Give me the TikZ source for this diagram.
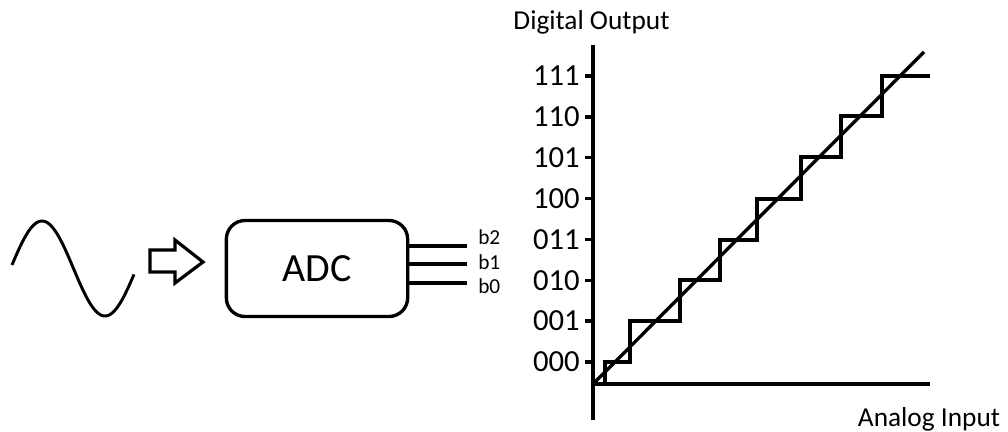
\documentclass[tikz,border=0pt]{standalone}
\usepackage{fontspec}
\setmainfont{Carlito}
\usepackage{tikz}
\usetikzlibrary{calc}

\begin{document}
\begin{tikzpicture}[x=0.75pt, y=-0.75pt]
      \tikzset{thick line/.style = {line width=2.5pt}}
      \tikzset{box/.style = {shape=rectangle, draw, line width=2.5pt, rounded corners=14pt,
          minimum width=136pt, minimum height=72pt, font=\fontsize{30}{36}\selectfont}}
      \tikzset{bit/.style = {anchor=west, inner sep=0pt, font=\fontsize{16}{19}\selectfont}}
      \tikzset{code/.style = {anchor=east, inner sep=0pt, font=\fontsize{23}{27}\selectfont}}
      \tikzset{title/.style = {inner sep=0pt, font=\fontsize{20.5}{24}\selectfont}}
      \useasboundingbox (0,0) rectangle (1008,432);

      % analog signal and input arrow
      \draw[line width=2.2pt, line join=round] plot[domain=12:134, samples=80, smooth]
            (\x, {268.5 - 47.5*sin((\x-10.5)*2.857143)});
      \draw[line width=2.4pt, miter limit=10] (150,250) -- (175,250) -- (175,240) -- (203,262)
            -- (175,283) -- (175,272) -- (150,272) -- cycle;

      % converter
      \node[box] (adc) at (317, 268.5) {ADC};
      \coordinate (e2) at (467, 246);
      \coordinate (e1) at (467, 264);
      \coordinate (e0) at (467, 283);
      \draw[thick line] (adc.east |- e2) -- (e2);
      \draw[thick line] (adc.east |- e1) -- (e1);
      \draw[thick line] (adc.east |- e0) -- (e0);
      \node[bit] (b2) at (478, 237) {b2};
      \node[bit] (b1) at (478, 262) {b1};
      \node[bit] (b0) at (478, 286) {b0};

      % transfer characteristic
      \coordinate (o) at (593, 384);
      \coordinate (ytop) at (593, 45);
      \coordinate (ybot) at (593, 420);
      \coordinate (xend) at (930, 384);
      \draw[thick line] (ytop) -- (ybot);
      \draw[thick line] (o) -- (xend);
      \foreach \lbl [count=\i from 0] in {000,001,010,011,100,101,110,111} {
        \draw[thick line] (585, 362-40.86*\i) -- (593, 362-40.86*\i);
        \node[code] (c\lbl) at (580, 362-40.86*\i) {\lbl};
      }
      \draw[thick line] (605,384) |- (630,362) |- (680,321) |- (720,280) |- (757,240)
            |- (801,199) |- (841,157) |- (882,116) |- (930,76);
      \coordinate (dend) at (924, 52);
      \draw[thick line] (o) -- (dend);

      \node[title] (dout) at (591.5, 22) {Digital Output};
      \node[title] (ain) at (929, 419) {Analog Input};
    \end{tikzpicture}
\end{document}
